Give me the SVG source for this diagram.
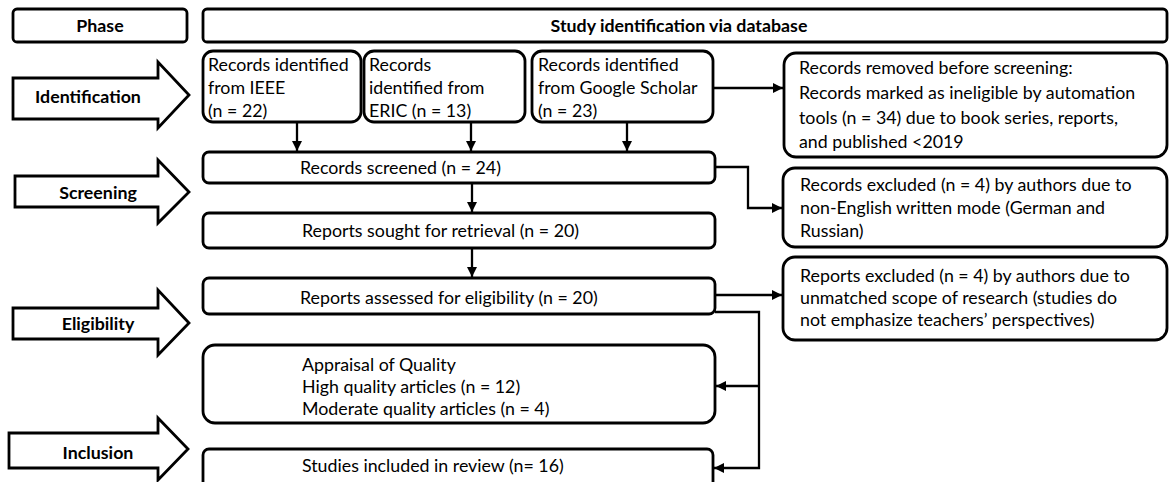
<svg xmlns="http://www.w3.org/2000/svg" width="1171" height="482" viewBox="0 0 1171 482">
  <defs>
    <marker id="arrow" viewBox="0 0 10 10" refX="10" refY="5" markerWidth="10" markerHeight="10" markerUnits="userSpaceOnUse" orient="auto">
      <path d="M0,0 L10,5 L0,10 z" fill="#000"/>
    </marker>
    <style>
      .box { fill: #fff; stroke: #000; stroke-width: 2.8; }
      .phase { fill: #fff; stroke: #000; stroke-width: 2.8; stroke-linejoin: miter; }
      .conn { fill: none; stroke: #000; stroke-width: 2.3; }
      .t { font-family: Lato, "Liberation Sans", sans-serif; font-size: 17.8px; fill: #000; }
      .b { font-family: Lato, "Liberation Sans", sans-serif; font-size: 17.8px; font-weight: bold; fill: #000; text-anchor: middle; }
    </style>
  </defs>
  <rect width="1171" height="482" fill="#fff"/>

  <!-- header row -->
  <g id="phase-header">
    <rect class="box" x="13" y="9" width="174" height="33" rx="4"/>
    <text class="b" x="100" y="32">Phase</text>
  </g>
  <g id="db-header">
    <rect class="box" x="203" y="9" width="964" height="33" rx="4"/>
    <text class="b" x="679" y="32">Study identification via database</text>
  </g>

  <!-- phase arrows -->
  <g id="phase-identification">
    <polygon class="phase" points="13,78 158,78 158,62 189,95 158,128 158,119 13,119"/>
    <text class="b" x="88" y="103">Identification</text>
  </g>
  <g id="phase-screening">
    <polygon class="phase" points="15,176 158,176 158,160 189,192 158,223 158,207 15,207"/>
    <text class="b" x="98" y="199">Screening</text>
  </g>
  <g id="phase-eligibility">
    <polygon class="phase" points="13,308 158,308 158,290 189,323 158,355 158,339 13,339"/>
    <text class="b" x="98" y="330">Eligibility</text>
  </g>
  <g id="phase-inclusion">
    <polygon class="phase" points="9,433 158,433 158,418 188,449 158,480 158,468 9,468"/>
    <text class="b" x="98" y="459">Inclusion</text>
  </g>

  <!-- sources -->
  <g id="src-ieee">
    <rect class="box" x="203" y="51" width="158" height="71" rx="10"/>
    <text class="t" x="208" y="71">Records identified</text>
    <text class="t" x="208" y="94">from IEEE</text>
    <text class="t" x="208" y="117">(n = 22)</text>
  </g>
  <g id="src-eric">
    <rect class="box" x="364" y="51" width="161" height="71" rx="10"/>
    <text class="t" x="369" y="71">Records</text>
    <text class="t" x="369" y="94">identified from</text>
    <text class="t" x="369" y="117">ERIC (n = 13)</text>
  </g>
  <g id="src-scholar">
    <rect class="box" x="532" y="51" width="181" height="71" rx="10"/>
    <text class="t" x="538" y="71">Records identified</text>
    <text class="t" x="538" y="94">from Google Scholar</text>
    <text class="t" x="538" y="117">(n = 23)</text>
  </g>

  <!-- removed before screening -->
  <g id="removed">
    <rect class="box" x="784" y="53" width="383" height="104" rx="12"/>
    <text class="t" x="799" y="74">Records removed before screening:</text>
    <text class="t" x="799" y="99">Records marked as ineligible by automation</text>
    <text class="t" x="799" y="124">tools (n = 34) due to book series, reports,</text>
    <text class="t" x="799" y="148">and published &lt;2019</text>
  </g>

  <!-- main flow -->
  <g id="screened">
    <rect class="box" x="203" y="152" width="512" height="31" rx="6"/>
    <text class="t" x="300" y="174">Records screened (n = 24)</text>
  </g>
  <g id="excluded-records">
    <rect class="box" x="783" y="168" width="384" height="79" rx="12"/>
    <text class="t" x="800" y="191">Records excluded (n = 4) by authors due to</text>
    <text class="t" x="800" y="214">non-English written mode (German and</text>
    <text class="t" x="800" y="237">Russian)</text>
  </g>
  <g id="sought">
    <rect class="box" x="203" y="213" width="512" height="35" rx="6"/>
    <text class="t" x="302" y="237">Reports sought for retrieval (n = 20)</text>
  </g>
  <g id="assessed">
    <rect class="box" x="203" y="278" width="512" height="36" rx="6"/>
    <text class="t" x="300" y="304">Reports assessed for eligibility (n = 20)</text>
  </g>
  <g id="excluded-reports">
    <rect class="box" x="783" y="257" width="384" height="83" rx="12"/>
    <text class="t" x="800" y="282">Reports excluded (n = 4) by authors due to</text>
    <text class="t" x="800" y="304">unmatched scope of research (studies do</text>
    <text class="t" x="800" y="326">not emphasize teachers’ perspectives)</text>
  </g>
  <g id="appraisal">
    <rect class="box" x="203" y="345" width="512" height="78" rx="12"/>
    <text class="t" x="302" y="371">Appraisal of Quality</text>
    <text class="t" x="302" y="393">High quality articles (n = 12)</text>
    <text class="t" x="302" y="415">Moderate quality articles (n = 4)</text>
  </g>
  <g id="included">
    <rect class="box" x="203" y="449" width="510" height="40" rx="6"/>
    <text class="t" x="302" y="472">Studies included in review (n= 16)</text>
  </g>

  <!-- connectors -->
  <g id="connectors">
    <path class="conn" d="M297,122 V151" marker-end="url(#arrow)"/>
    <path class="conn" d="M471,122 V151" marker-end="url(#arrow)"/>
    <path class="conn" d="M627,122 V151" marker-end="url(#arrow)"/>
    <path class="conn" d="M713,88 H783" marker-end="url(#arrow)"/>
    <path class="conn" d="M715,167 H748 V208 H782" marker-end="url(#arrow)"/>
    <path class="conn" d="M472,183 V212" marker-end="url(#arrow)"/>
    <path class="conn" d="M472,248 V277" marker-end="url(#arrow)"/>
    <path class="conn" d="M715,295 H782" marker-end="url(#arrow)"/>
    <path class="conn" d="M715,312 H759 V468 H714" marker-end="url(#arrow)"/>
    <path class="conn" d="M759,386 H716" marker-end="url(#arrow)"/>
  </g>
</svg>
